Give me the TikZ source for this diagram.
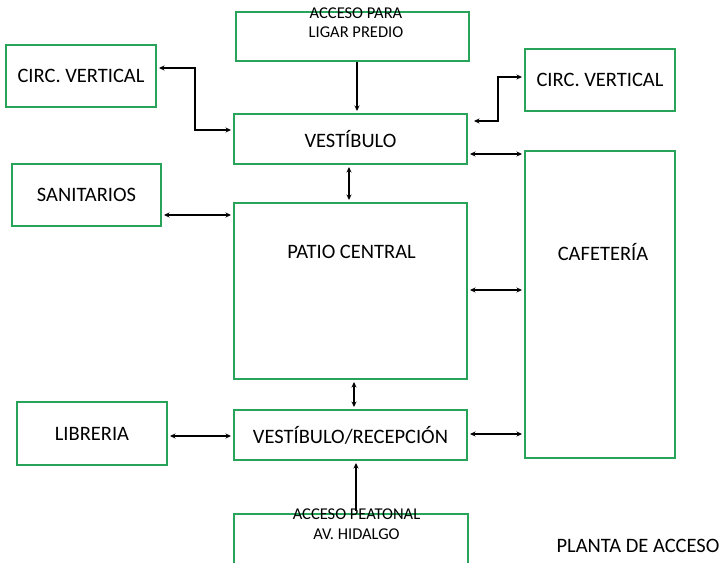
\documentclass[tikz,border=0pt]{standalone}
\usepackage{fontspec}
\setmainfont{Carlito}
\usetikzlibrary{arrows.meta}
\definecolor{boxgreen}{RGB}{40,163,90}
\tikzset{
  box/.style={draw=boxgreen, line width=2pt, inner sep=0pt, fill=white, font=\fontsize{20.5}{24}\selectfont},
  lbl/.style={inner sep=0pt, font=\fontsize{20.5}{24}\selectfont},
  small/.style={inner sep=0pt, align=center, font=\fontsize{16.5}{19.5}\selectfont},
  conn/.style={line width=1.4pt, black, {Stealth[length=5.5pt,width=5pt]}-{Stealth[length=5.5pt,width=5pt]}, shorten <=2pt, shorten >=2pt},
  oneway/.style={line width=1.4pt, black, -{Stealth[length=5.5pt,width=5pt]}, shorten >=2pt}
}
\begin{document}
\begin{tikzpicture}[x=1pt,y=-1pt]
\useasboundingbox (0,0) rectangle (722,562);
% boxes
\node[box, minimum width=233pt, minimum height=49pt] (acc1) at (352.5,36.5) {};
\node[box, minimum width=150pt, minimum height=62pt] (cvl) at (81,76) {CIRC. VERTICAL};
\node[box, minimum width=150pt, minimum height=62pt] (cvr) at (600,80) {CIRC. VERTICAL};
\node[box, minimum width=233pt, minimum height=50pt] (vest) at (350.5,139) {VESTÍBULO};
\node[box, minimum width=149pt, minimum height=62pt] (san) at (86.5,195) {SANITARIOS};
\node[box, minimum width=233pt, minimum height=176pt] (patio) at (350.5,291) {};
\node[box, minimum width=150pt, minimum height=307pt] (caf) at (600,304.5) {};
\node[box, minimum width=150pt, minimum height=63pt] (lib) at (92,433.5) {LIBRERIA};
\node[box, minimum width=233pt, minimum height=50pt] (vrec) at (350.5,435) {VESTÍBULO/RECEPCIÓN};
\node[box, minimum width=234pt, minimum height=61pt] (acc2) at (351,544.5) {};
% texts
\node[small] (t1) at (356,22.5) {ACCESO PARA\\LIGAR PREDIO};
\node[lbl] (tpatio) at (351.5,252) {PATIO CENTRAL};
\node[lbl] (tcaf) at (603,252) {CAFETERÍA};
\node[small] (t2) at (356.5,524) {ACCESO PEATONAL\\AV. HIDALGO};
\node[lbl] (tplanta) at (638,546) {PLANTA DE ACCESO};
% connectors
\draw[oneway] (acc1.south -| 357,0) -- (vest.north -| 357,0);
\draw[conn] (cvl.east |- 0,68) -| (195,130) -- (vest.west |- 0,130);
\draw[conn, shorten <=6pt] (vest.east |- 0,121) -| (498,77) -- (cvr.west |- 0,77);
\draw[conn] (vest.east |- 0,154) -- (caf.west |- 0,154);
\draw[conn] (vest.south -| 349,0) -- (patio.north -| 349,0);
\draw[conn] (san.east |- 0,215) -- (patio.west |- 0,215);
\draw[conn] (patio.east |- 0,290) -- (caf.west |- 0,290);
\draw[conn] (patio.south -| 354,0) -- (vrec.north -| 354,0);
\draw[conn] (lib.east |- 0,436) -- (vrec.west |- 0,436);
\draw[conn] (vrec.east |- 0,434) -- (caf.west |- 0,434);
\draw[oneway] (acc2.north -| 356,0) ++(0,-2) -- (vrec.south -| 356,0);
\end{tikzpicture}
\end{document}
